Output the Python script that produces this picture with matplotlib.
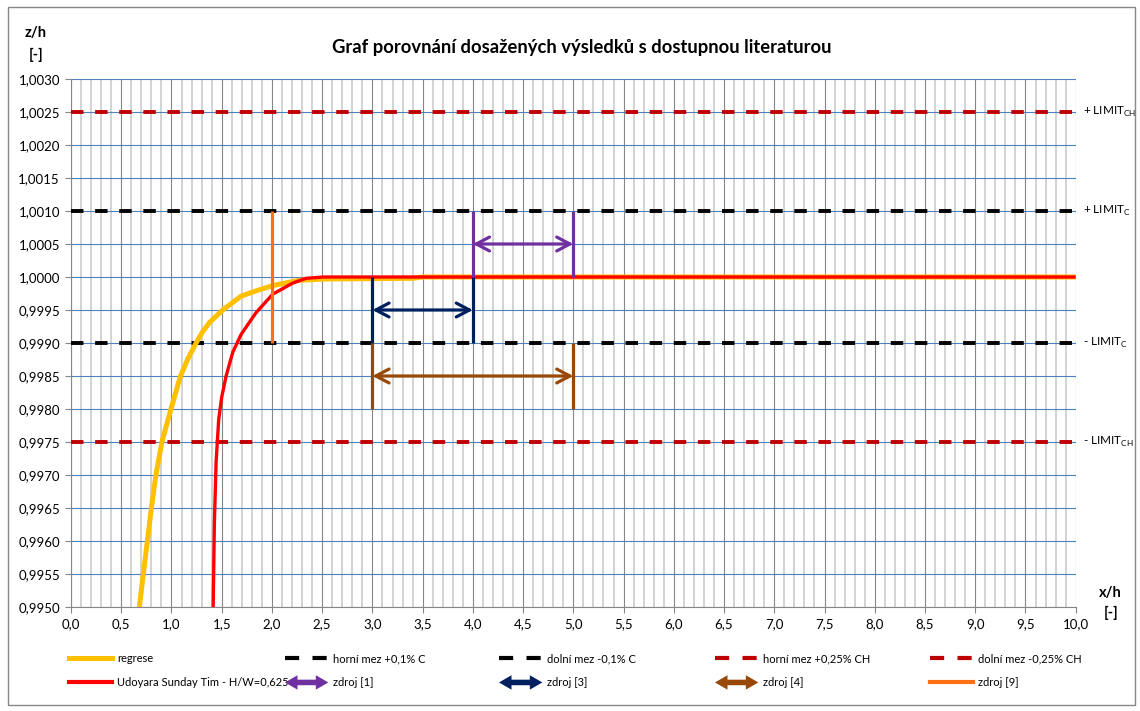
import numpy as np
import matplotlib
matplotlib.use("Agg")
import matplotlib.pyplot as plt
import matplotlib.patches as mpatches
from matplotlib.lines import Line2D
from matplotlib.legend_handler import HandlerBase
from matplotlib.ticker import MultipleLocator, FuncFormatter

plt.rcParams['font.family'] = ['Lato', 'DejaVu Sans']

# --- data ---
regrese_x = [0.68, 0.72, 0.76, 0.80, 0.845, 0.905, 0.995, 1.09, 1.16, 1.245, 1.31, 1.378, 1.51,
             1.693, 1.842, 2.008, 2.27, 2.53, 3.4, 3.5, 10.0]
regrese_z = [0.9950, 0.9955, 0.9960, 0.9965, 0.9970, 0.9975, 0.9980, 0.9985, 0.99875, 0.9990, 0.99917, 0.99931, 0.9995,
             0.99971, 0.99979, 0.99987, 0.99995, 0.99997, 0.99998, 1.0, 1.0]

udoyara_x = [1.415, 1.427, 1.444, 1.47, 1.50, 1.544, 1.61, 1.693, 1.842, 2.008,
             2.21, 2.34, 2.51, 10.0]
udoyara_z = [0.9950, 0.99627, 0.99719, 0.99784, 0.99818, 0.9985, 0.99886, 0.99913, 0.99946, 0.99974,
             0.99991, 0.99998, 1.0, 1.0]

limit_c = [1.0010, 0.9990]
limit_ch = [1.0025, 0.9975]
limit_labels = ['+ LIMIT$_{\\mathregular{CH}}$', '+ LIMIT$_{\\mathregular{C}}$',
                '- LIMIT$_{\\mathregular{C}}$', '- LIMIT$_{\\mathregular{CH}}$']
limit_label_z = [1.0025, 1.0010, 0.9990, 0.9975]

# sources: (x positions of bars, lower z, upper z, arrow z)
zdroj1_x, zdroj1_lo, zdroj1_hi, zdroj1_arrow = [4.0, 5.0], 1.0000, 1.0010, 1.0005
zdroj3_x, zdroj3_lo, zdroj3_hi, zdroj3_arrow = [3.0, 4.0], 0.9990, 1.0000, 0.9995
zdroj4_x, zdroj4_lo, zdroj4_hi, zdroj4_arrow = [3.0, 5.0], 0.9980, 0.9990, 0.9985
zdroj9_x, zdroj9_lo, zdroj9_hi = [2.0], 0.9990, 1.0010

c_yellow = '#FFC000'
c_red = '#FF0000'
c_darkred = '#C00000'
c_purple = '#7030A0'
c_navy = '#002060'
c_brown = '#984807'
c_orange = '#FF7015'
grid_gray = '#868686'

fig = plt.figure(figsize=(11.4, 7.11), dpi=100)
ax = fig.add_axes([71 / 1140, 1 - 607 / 711, (1075.7 - 71) / 1140, (607 - 79) / 711])

ax.set_xlim(0, 10)
ax.set_ylim(0.9950, 1.0030)
ax.xaxis.set_major_locator(MultipleLocator(0.5))
ax.xaxis.set_minor_locator(MultipleLocator(0.1))
ax.yaxis.set_major_locator(MultipleLocator(0.0005))
ax.xaxis.set_major_formatter(FuncFormatter(lambda v, p: f"{v:.1f}".replace('.', ',')))
ax.yaxis.set_major_formatter(FuncFormatter(lambda v, p: f"{v:.4f}".replace('.', ',')))

ax.grid(which='minor', axis='x', color='#D0D0D0', lw=1.3, zorder=0)
ax.grid(which='major', axis='x', color=grid_gray, lw=0.8, zorder=0)
ax.grid(which='major', axis='y', color='#4F81BD', lw=0.8, zorder=0)
ax.set_axisbelow(True)
ax.tick_params(axis='both', which='major', direction='out', length=4, width=0.8,
               color=grid_gray, labelsize=9.5, pad=4)
ax.tick_params(axis='x', which='minor', length=0)
for s in ['top', 'right']:
    ax.spines[s].set_visible(False)
ax.spines['left'].set_color(grid_gray)
ax.spines['bottom'].set_color(grid_gray)

dash = (0, (3.2, 3.0))
for z in limit_ch:
    ax.plot([0, 10], [z, z], color=c_darkred, lw=2.8, linestyle=dash, zorder=3)
for z in limit_c:
    ax.plot([0, 10], [z, z], color='black', lw=2.8, linestyle=dash, zorder=3)

ax.plot(regrese_x, regrese_z, color=c_yellow, lw=3.6, zorder=4, solid_capstyle='butt')
ax.plot(udoyara_x, udoyara_z, color=c_red, lw=2.4, zorder=5, solid_capstyle='butt')


def draw_source(xs, lo, hi, az, color):
    for x in xs:
        ax.plot([x, x], [lo, hi], color=color, lw=2.3, zorder=6, solid_capstyle='butt')
    if az is not None:
        ax.annotate('', xy=(xs[-1], az), xytext=(xs[0], az),
                    arrowprops=dict(arrowstyle='<->,head_length=0.95,head_width=0.5',
                                    color=color, lw=2.3, shrinkA=0, shrinkB=0,
                                    mutation_scale=10), zorder=6)


draw_source(zdroj1_x, zdroj1_lo, zdroj1_hi, zdroj1_arrow, c_purple)
draw_source(zdroj3_x, zdroj3_lo, zdroj3_hi, zdroj3_arrow, c_navy)
draw_source(zdroj4_x, zdroj4_lo, zdroj4_hi, zdroj4_arrow, c_brown)
draw_source(zdroj9_x, zdroj9_lo, zdroj9_hi, None, c_orange)

for lab, z in zip(limit_labels, limit_label_z):
    ax.annotate(lab, xy=(1.0, z), xycoords=('axes fraction', 'data'),
                xytext=(5, 0), textcoords='offset points', va='center', ha='left', fontsize=8.5)

# titles and axis captions
fig.text(582 / 1140, 1 - 47 / 711, 'Graf porovnání dosažených výsledků s dostupnou literaturou',
         ha='center', va='center', fontsize=13.2, fontweight='bold')
fig.text(36 / 1140, 1 - 33 / 711, 'z/h', ha='center', va='center', fontsize=10.5, fontweight='bold')
fig.text(36 / 1140, 1 - 55 / 711, '[-]', ha='center', va='center', fontsize=10.5, fontweight='bold')
fig.text(1110 / 1140, 1 - 593 / 711, 'x/h', ha='center', va='center', fontsize=10.5, fontweight='bold')
fig.text(1111 / 1140, 1 - 613 / 711, '[-]', ha='center', va='center', fontsize=10.5, fontweight='bold')

# outer chart border
fig.patches.append(mpatches.Rectangle((8 / 1140, 6 / 711), 1127 / 1140, 698 / 711,
                                      transform=fig.transFigure, fill=False,
                                      edgecolor=grid_gray, lw=1))


class HandlerDoubleArrow(HandlerBase):
    def create_artists(self, legend, orig_handle, xdescent, ydescent, width, height,
                       fontsize, trans):
        y = height / 2 - ydescent
        x0, x1 = -xdescent, -xdescent + width
        hl, hw, sw = 9.0, 5.2, 2.0
        pts = [(x0, y), (x0 + hl, y + hw), (x0 + hl, y + sw), (x1 - hl, y + sw),
               (x1 - hl, y + hw), (x1, y), (x1 - hl, y - hw), (x1 - hl, y - sw),
               (x0 + hl, y - sw), (x0 + hl, y - hw)]
        p = mpatches.Polygon(pts, closed=True, facecolor=orig_handle.get_color(),
                             edgecolor='none', transform=trans)
        return [p]


leg_dash = (0, (3.4, 3.2))
h_regrese = Line2D([], [], color=c_yellow, lw=3.6)
h_udoyara = Line2D([], [], color=c_red, lw=3.0)
h_hc = Line2D([], [], color='black', lw=3.0, linestyle=leg_dash)
h_dc = Line2D([], [], color='black', lw=3.0, linestyle=leg_dash)
h_hch = Line2D([], [], color=c_darkred, lw=3.0, linestyle=leg_dash)
h_dch = Line2D([], [], color=c_darkred, lw=3.0, linestyle=leg_dash)
h_z1 = Line2D([], [], color=c_purple)
h_z3 = Line2D([], [], color=c_navy)
h_z4 = Line2D([], [], color=c_brown)
h_z9 = Line2D([], [], color=c_orange, lw=3.0)
arrow_map = {h: HandlerDoubleArrow() for h in (h_z1, h_z3, h_z4)}

columns = [
    ([h_regrese, h_udoyara], ['regrese', 'Udoyara Sunday Tim - H/W=0,625'], 69),
    ([h_hc, h_z1], ['horní mez +0,1% C', 'zdroj [1]'], 285),
    ([h_dc, h_z3], ['dolní mez -0,1% C', 'zdroj [3]'], 499),
    ([h_hch, h_z4], ['horní mez +0,25% CH', 'zdroj [4]'], 715),
    ([h_dch, h_z9], ['dolní mez -0,25% CH', 'zdroj [9]'], 930),
]
for handles, labels, px in columns:
    fig.legend(handles, labels, loc='upper left', bbox_to_anchor=(px / 1140, 1 - 653 / 711),
               frameon=False, fontsize=8, handlelength=3.9, handletextpad=0.45,
               labelspacing=1.2, borderpad=0, borderaxespad=0, handler_map=arrow_map)

fig.savefig('out.png', dpi=100)
